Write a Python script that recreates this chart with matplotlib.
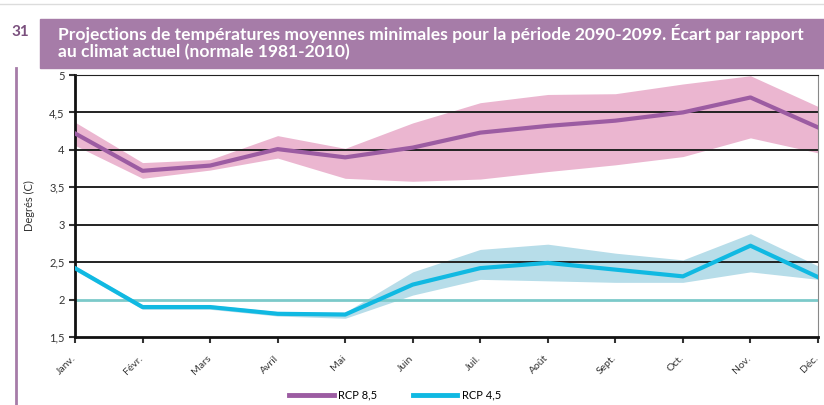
import matplotlib.pyplot as plt
from matplotlib.patches import Rectangle
from matplotlib.lines import Line2D
from matplotlib.transforms import ScaledTranslation

months = ['Janv.', 'Févr.', 'Mars', 'Avril', 'Mai', 'Juin',
          'Juil.', 'Août', 'Sept.', 'Oct.', 'Nov.', 'Déc.']

rcp85 = [4.22, 3.72, 3.79, 4.01, 3.9, 4.03, 4.23, 4.32, 4.39, 4.5, 4.7, 4.3]
rcp85_high = [4.37, 3.83, 3.87, 4.19, 4.02, 4.36, 4.63, 4.74, 4.75, 4.88, 4.99, 4.58]
rcp85_low = [4.06, 3.62, 3.73, 3.89, 3.62, 3.58, 3.61, 3.71, 3.8, 3.91, 4.16, 3.96]

rcp45 = [2.42, 1.9, 1.9, 1.81, 1.8, 2.2, 2.42, 2.49, 2.4, 2.31, 2.72, 2.3]
rcp45_high = [2.45, 1.93, 1.93, 1.84, 1.83, 2.37, 2.67, 2.74, 2.62, 2.53, 2.88, 2.45]
rcp45_low = [2.39, 1.87, 1.87, 1.78, 1.75, 2.06, 2.27, 2.25, 2.23, 2.23, 2.37, 2.27]

yticks = [1.5, 2, 2.5, 3, 3.5, 4, 4.5, 5]
ytick_labels = ['1,5', '2', '2,5', '3', '3,5', '4', '4,5', '5']

title = ('Projections de températures moyennes minimales pour la période 2090-2099. Écart par rapport\n'
         'au climat actuel (normale 1981-2010)')

plt.rcParams['font.family'] = ['Lato', 'DejaVu Sans']

W, H = 824, 405
fig = plt.figure(figsize=(W / 100, H / 100), dpi=100)

# header bar
fig.patches.append(Rectangle((40 / W, 1 - 68 / H), 1 - 40 / W, 49 / H,
                             transform=fig.transFigure, color='#a67ca8', zorder=0))
fig.lines.append(Line2D([0, 1], [1 - 4 / H, 1 - 4 / H], transform=fig.transFigure,
                        color='#dcdcdc', lw=1))
fig.lines.append(Line2D([16 / W, 16 / W], [0, 1 - 68 / H], transform=fig.transFigure,
                        color='#a67ca8', lw=2))
fig.text(11 / W, 1 - 32 / H, '31', color='#7a4f7d', fontsize=11, fontweight='bold',
         va='center', ha='left')
fig.text(58 / W, 1 - 42 / H, title, color='white', fontsize=12.6, fontweight='bold',
         va='center', ha='left', linespacing=1.1)

ax = fig.add_axes([75 / W, 1 - 337 / H, (818 - 75) / W, (337 - 75) / H])
x = list(range(len(months)))

ax.fill_between(x, rcp85_low, rcp85_high, color='#ebb6d0', lw=0, zorder=1)
ax.fill_between(x, rcp45_low, rcp45_high, color='#b7dde9', lw=0, zorder=1)

for v in yticks:
    if v == 2:
        ax.axhline(v, color='#7ccaca', lw=2, zorder=2)
    elif v != 1.5:
        ax.axhline(v, color='#222222', lw=1.4, zorder=2)

ax.plot(x, rcp85, color='#9c5ca2', lw=3, zorder=3, label='RCP 8,5')
ax.plot(x, rcp45, color='#10b9e2', lw=3, zorder=3, label='RCP 4,5')

ax.set_xlim(0, 11)
ax.set_ylim(1.5, 5)
ax.set_yticks(yticks)
ax.set_yticklabels(ytick_labels)
ax.set_xticks(x)
ax.set_xticklabels(months, rotation=45, ha='right', rotation_mode='anchor')
ax.tick_params(axis='both', labelsize=8, colors='#333333', direction='out', length=4, width=1.5)
ax.tick_params(axis='x', labelsize=7.5, pad=8)
shift = ScaledTranslation(-4 / 100, 0, fig.dpi_scale_trans)
for lbl in ax.get_xticklabels():
    lbl.set_transform(lbl.get_transform() + shift)
ax.set_ylabel('Degrés (C)', fontsize=8, color='#333333', labelpad=10)

ax.spines['left'].set_color('#111111')
ax.spines['left'].set_linewidth(2)
ax.spines['bottom'].set_color('#111111')
ax.spines['bottom'].set_linewidth(2)
ax.spines['right'].set_color('#888888')
ax.spines['top'].set_color('#222222')

leg = fig.legend(loc='center', bbox_to_anchor=(395 / W, 1 - 395 / H), ncol=2, frameon=False,
                 fontsize=8, handlelength=4, columnspacing=3.2, handletextpad=0.4)
for line in leg.get_lines():
    line.set_linewidth(3.5)

plt.savefig('out.png', dpi=100)
